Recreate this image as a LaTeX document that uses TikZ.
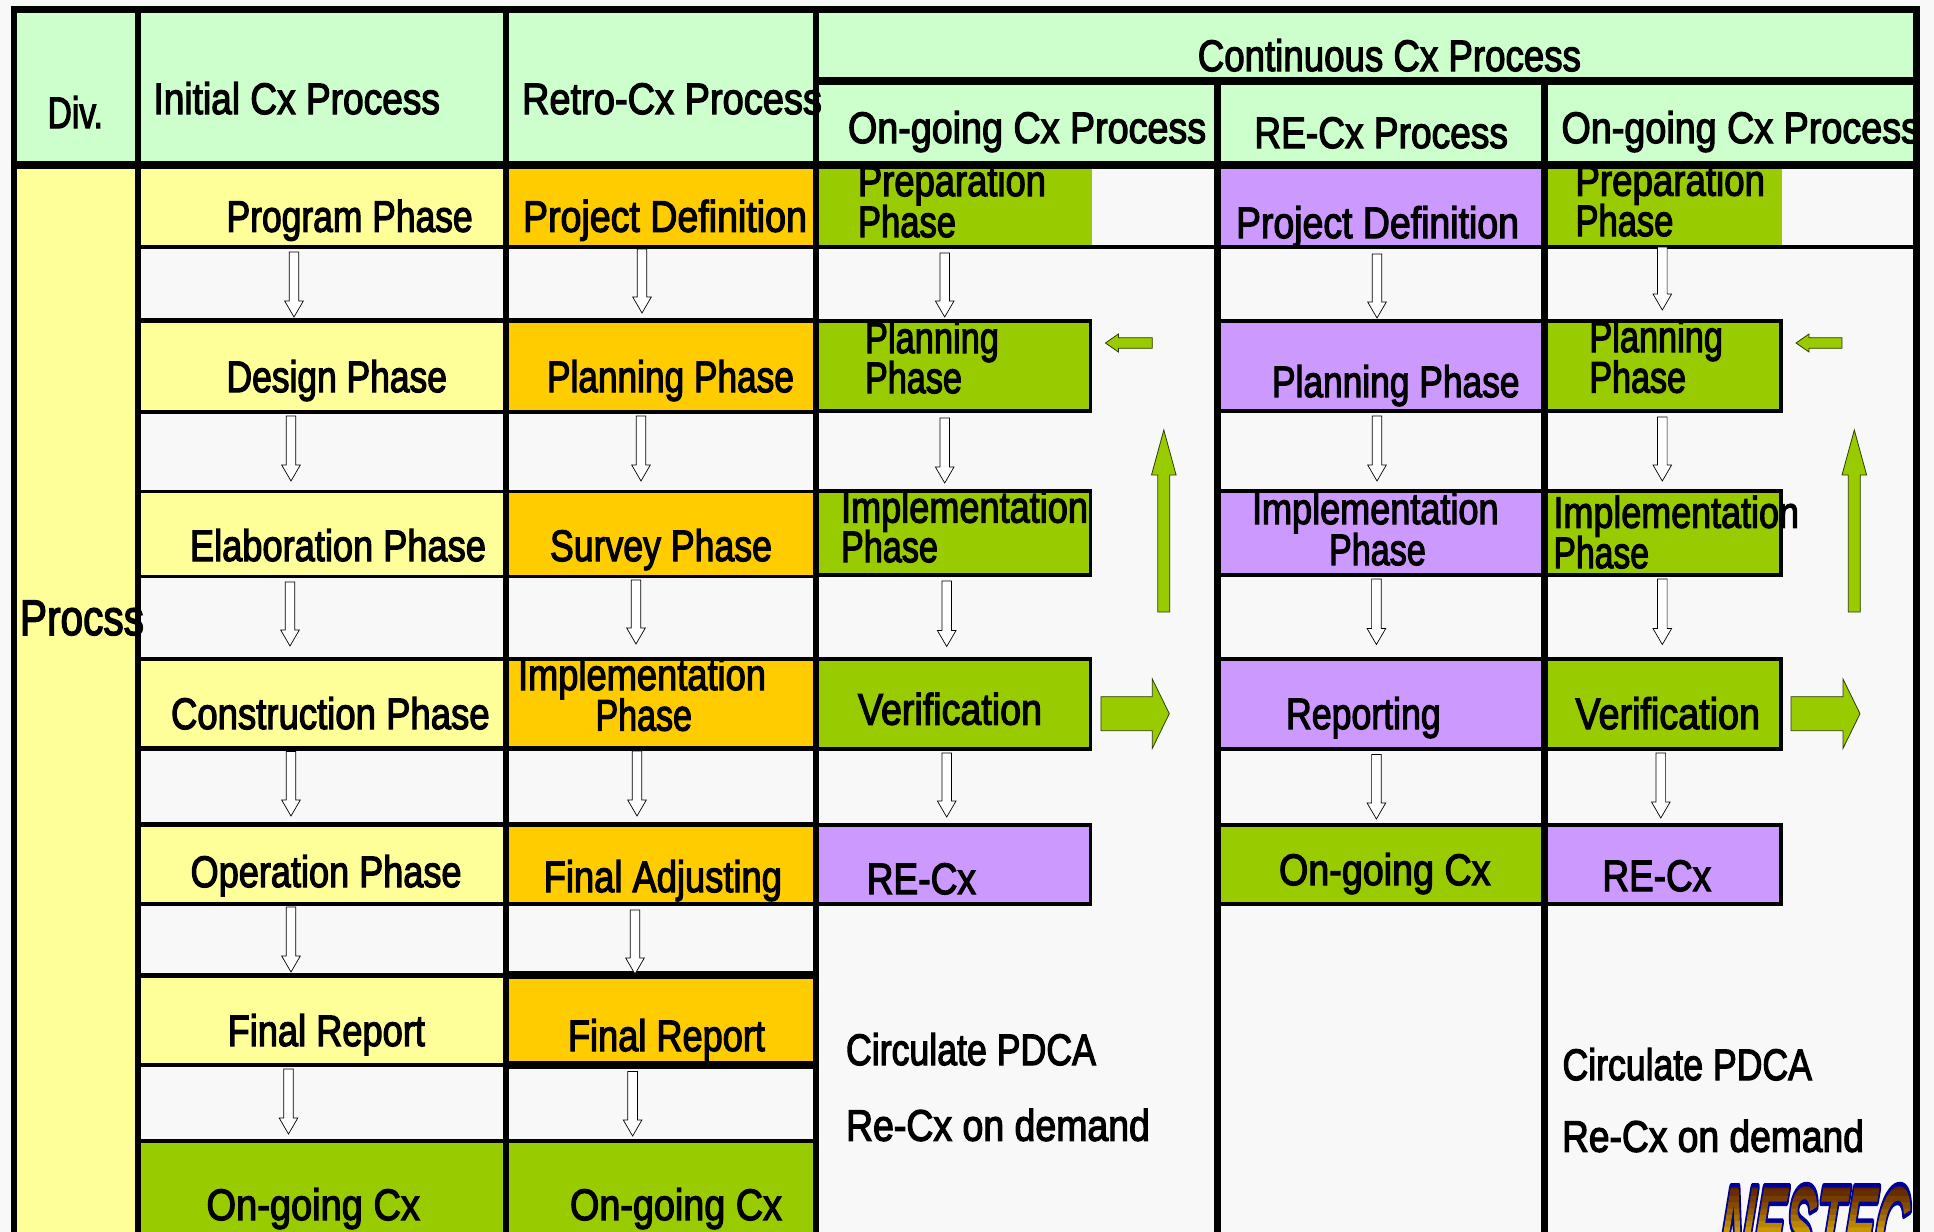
\documentclass[tikz,border=0pt]{standalone}
\usepackage{fontspec}
\usepackage{graphicx}
\usetikzlibrary{calc}
\newfontfamily\lf{Liberation Sans}[FakeBold=3]
\newfontfamily\lgf{Liberation Sans}[UprightFont=* Bold Italic]
\definecolor{hdr}{HTML}{CCFFCC}
\definecolor{yel}{HTML}{FFFF99}
\definecolor{org}{HTML}{FFCC00}
\definecolor{grn}{HTML}{99CC00}
\definecolor{prp}{HTML}{CC99FF}
\definecolor{bgc}{HTML}{F8F8F8}
\newsavebox\tbx
\newdimen\tbw
\newcommand\lfs{\lf\fontsize{22}{26}\selectfont}
% text squeezed to a width given in px
\newcommand\fitx[2]{%
  \sbox\tbx{\lfs #2}\tbw=\wd\tbx
  \pgfmathsetmacro\scx{(#1)*0.5pt/\the\tbw}%
  \scalebox{\scx}[1]{\usebox\tbx}}
% one-line label: name, x-left, x-right, baseline, text
\newcommand\lab[5]{%
  \node[lbl] (#1) at (#2,#4) {\fitx{#3-#2}{#5}};}
% two-line label: name, xa1, xa2, ya, texta, xb1, xb2, yb, textb
\newcommand\labb[9]{%
  \node[lbl] (#1) at (#6,#8) {%
    \pgfmathsetmacro\dxx{(#2-#6)*0.5}%
    \pgfmathsetmacro\dyy{(#8-#4)*0.5}%
    \rlap{\hspace{\dxx pt}\raisebox{\dyy pt}{\fitx{#3-#2}{#5}}}\fitx{#7-#6}{#9}};}
% filled cell: name, x1, y1, x2, y2, colour
\newcommand\cell[6]{%
  \node[cellbox,fill=#6,minimum width={(#4-#2)*0.5pt},minimum height={(#5-#3)*0.5pt}] (#1) at ({(#2+#4)/2},{(#3+#5)/2}) {};}
% black rule
\newcommand\rul[4]{\fill[black] (#1,#2) rectangle (#3,#4);}
% block arrow between named coordinates: style, from, to, shaft half, head half, head length (all px)
\newcommand\barrow[6]{%
  \coordinate (hb) at ($(#3)!#6*0.5pt!(#2)$);
  \draw[#1] ($(#2)!#4*0.5pt!90:(#3)$) -- ($(hb)!#4*0.5pt!-90:(#2)$) -- ($(hb)!#5*0.5pt!-90:(#2)$) -- (#3)
    -- ($(hb)!#5*0.5pt!90:(#2)$) -- ($(hb)!#4*0.5pt!90:(#2)$) -- ($(#2)!#4*0.5pt!-90:(#3)$) -- cycle;}
% thin hollow arrow: name, x, y-top, y-tip
\newcommand\darrow[4]{%
  \coordinate (#1s) at (#2,#3);
  \coordinate (#1e) at (#2,#4);
  \barrow{hollow}{#1s}{#1e}{4.8}{9.3}{16}}
\tikzset{
  lbl/.style={anchor=base west,inner sep=0pt,outer sep=0pt,text=black},
  cellbox/.style={rectangle,inner sep=0pt,outer sep=0pt,draw=none},
  hollow/.style={draw=black,fill=white,line width=0.35pt,line join=miter},
  solidarrow/.style={draw=black!70!grn,fill=grn,line width=0.4pt,line join=miter}
}
\begin{document}
\begin{tikzpicture}[x=0.5pt,y=-0.5pt]
\useasboundingbox (0,0) rectangle (1934,1232);
\fill[bgc] (0,0) rectangle (1934,1232);
% header cells
\cell{hDiv}{17}{12}{135}{162}{hdr}
\cell{hIni}{141}{12}{503}{162}{hdr}
\cell{hRet}{509}{12}{813}{162}{hdr}
\cell{hCon}{819}{12}{1914}{78}{hdr}
\cell{hOn1}{819}{84}{1215}{162}{hdr}
\cell{hRe}{1220.5}{84}{1542}{162}{hdr}
\cell{hOn2}{1547.5}{84}{1914}{162}{hdr}
% process column
\cell{pr}{17}{168}{135}{1232}{yel}
% initial column
\cell{i1}{141}{168}{503}{245}{yel}
\cell{i2}{141}{322}{503}{411}{yel}
\cell{i3}{141}{492}{503}{576}{yel}
\cell{i4}{141}{660}{503}{747}{yel}
\cell{i5}{141}{826}{503}{903}{yel}
\cell{i6}{141}{977}{503}{1064}{yel}
\cell{i7}{141}{1142}{503}{1232}{grn}
% retro column
\cell{r1}{509}{168}{813}{245}{org}
\cell{r2}{509}{322}{813}{411}{org}
\cell{r3}{509}{492}{813}{576}{org}
\cell{r4}{509}{660}{813}{747}{org}
\cell{r5}{509}{826}{813}{903}{org}
\cell{r6}{509}{978}{813}{1062}{org}
\cell{r7}{509}{1142}{813}{1232}{grn}
% first on-going column
\cell{a1}{818}{168}{1092.4}{245}{grn}
\cell{a2}{818}{322}{1089.4}{410}{grn}
\cell{a3}{818}{492}{1089.4}{574}{grn}
\cell{a4}{818}{660}{1089.4}{747}{grn}
\cell{a5}{818}{826}{1089.4}{903}{prp}
% RE-Cx column
\cell{b1}{1220}{168}{1542}{245}{prp}
\cell{b2}{1220}{322}{1542}{410}{prp}
\cell{b3}{1220}{492}{1542}{574}{prp}
\cell{b4}{1220}{660}{1542}{747}{prp}
\cell{b5}{1220}{826}{1542}{903}{grn}
% second on-going column
\cell{c1}{1547}{168}{1782}{245}{grn}
\cell{c2}{1547}{322}{1779}{410}{grn}
\cell{c3}{1547}{492}{1779}{574}{grn}
\cell{c4}{1547}{660}{1779}{747}{grn}
\cell{c5}{1547}{826}{1779}{903}{prp}
% grid rules
\rul{10.5}{6}{1920}{12.7}
\rul{10.5}{161}{1920}{169}
\rul{813}{77.3}{1920}{85}
% rows, first two columns
\rul{141}{245}{813}{249}
\rul{141}{318}{813}{323}
\rul{141}{410}{813}{414}
\rul{141}{490}{813}{493}
\rul{141}{575}{813}{578}
\rul{141}{657}{813}{661}
\rul{141}{746}{813}{751}
\rul{141}{822}{813}{827}
\rul{141}{902}{813}{906}
\rul{141}{973}{503}{978}
\rul{509}{970.5}{813}{979}
\rul{141}{1063}{503}{1067}
\rul{509}{1061}{813}{1069}
\rul{141}{1139}{813}{1143}
% rows, continuous columns
\rul{819}{245}{1914}{249}
\rul{819}{319}{1092.4}{323}
\rul{1214.3}{319}{1782.5}{323}
\rul{819}{409}{1092.4}{413}
\rul{1214.3}{409}{1782.5}{413}
\rul{819}{489}{1092.4}{493}
\rul{1214.3}{489}{1782.5}{493}
\rul{819}{573}{1092.4}{577}
\rul{1214.3}{573}{1782.5}{577}
\rul{819}{657}{1092.4}{661}
\rul{1214.3}{657}{1782.5}{661}
\rul{819}{747}{1092.4}{751}
\rul{1214.3}{747}{1782.5}{751}
\rul{819}{823}{1092.4}{827}
\rul{1214.3}{823}{1782.5}{827}
\rul{819}{902}{1092.4}{906}
\rul{1214.3}{902}{1782.5}{906}
% right edges of outlined boxes
\rul{1089.4}{319}{1092.4}{413}
\rul{1089.4}{489}{1092.4}{577}
\rul{1089.4}{657}{1092.4}{751}
\rul{1089.4}{823}{1092.4}{906}
\rul{1779}{319}{1782.5}{413}
\rul{1779}{489}{1782.5}{577}
\rul{1779}{657}{1782.5}{751}
\rul{1779}{823}{1782.5}{906}
% columns
\rul{10.5}{6}{17}{1232}
\rul{134.5}{6}{141}{1232}
\rul{503}{6}{509}{1232}
\rul{813}{6}{819}{1232}
\rul{1214.3}{77.3}{1221}{1232}
\rul{1541.3}{77.3}{1548}{1232}
\rul{1913.3}{6}{1920}{1232}
% logo, cut by the lower edge: outlined, clipped to its letters, filled in bands
\begin{scope}
\clip (1700,1170) rectangle (1922,1232);
\node[lbl,transform shape,xslant=0.09] (logo) at (1716,1273) {\scalebox{0.58}[1.55]{%
  \special{pdf:code q 0 0 0.6 RG 3 w 1 j 5 Tr}%
  \lgf\fontsize{40}{42}\selectfont NESTEC%
  \special{pdf:code 0 Tr}%
  \special{pdf:content
    0.361 0.141 0 rg -200 26.5 300 15 re f
    0.400 0.180 0 rg -200 24.5 300 2.2 re f
    0.460 0.240 0 rg -200 22.5 300 2.2 re f
    0.520 0.300 0 rg -200 20.5 300 2.2 re f
    0.580 0.370 0 rg -200 18.5 300 2.2 re f
    0.650 0.440 0 rg -200 16.5 300 2.2 re f
    0.720 0.520 0 rg -200 14.5 300 2.2 re f
    0.784 0.588 0 rg -200 -20 300 34.7 re f}%
  \special{pdf:code Q}}};
\end{scope}
% thin arrows
\darrow{da}{294}{252}{317}
\darrow{db}{291}{416}{481}
\darrow{dc}{290}{582}{646}
\darrow{dd}{291}{751.5}{816}
\darrow{de}{291}{907}{972}
\darrow{df}{288.5}{1069}{1134}
\darrow{ra}{642}{249}{313}
\darrow{rb}{641}{416}{481}
\darrow{rc}{636}{580}{644}
\darrow{rd}{637}{751}{816}
\darrow{re}{635}{910}{974}
\darrow{rf}{632.6}{1071.5}{1136}
\darrow{aa}{944.7}{253}{317}
\darrow{ab}{944.7}{418}{483}
\darrow{ac}{946.7}{581}{646.5}
\darrow{ad}{946.7}{753}{817}
\darrow{ba}{1377}{254}{318}
\darrow{bb}{1377}{416}{481}
\darrow{bc}{1376.4}{579}{644.5}
\darrow{bd}{1376.4}{754.5}{819}
\darrow{ca}{1662.3}{247}{310}
\darrow{cb}{1662.3}{417}{481}
\darrow{cc}{1662.3}{579}{644.5}
\darrow{cd}{1660.8}{753}{818}
% green arrows
\coordinate (gl1s) at (1152.3,343); \coordinate (gl1e) at (1105.4,343);
\barrow{solidarrow}{gl1s}{gl1e}{5.3}{9}{13}
\coordinate (gu1s) at (1163.8,612); \coordinate (gu1e) at (1163.8,430);
\barrow{solidarrow}{gu1s}{gu1e}{6}{12.3}{45}
\coordinate (gr1s) at (1100.9,713.7); \coordinate (gr1e) at (1169.3,713.7);
\barrow{solidarrow}{gr1s}{gr1e}{17}{34.7}{17}
\coordinate (gl2s) at (1842,343); \coordinate (gl2e) at (1796,343);
\barrow{solidarrow}{gl2s}{gl2e}{5.3}{9}{13}
\coordinate (gu2s) at (1854.3,612); \coordinate (gu2e) at (1854.3,430);
\barrow{solidarrow}{gu2s}{gu2e}{6}{12.3}{45}
\coordinate (gr2s) at (1791,713.7); \coordinate (gr2e) at (1860,713.7);
\barrow{solidarrow}{gr2s}{gr2e}{17}{34.7}{17}
% header labels
\lab{tDiv}{47.6}{103}{128}{Div.}
\lab{tIni}{153.5}{440}{114}{Initial Cx Process}
\lab{tRet}{522}{822}{114}{Retro-Cx Process}
\lab{tCon}{1197.8}{1581}{71}{Continuous Cx Process}
\lab{tOn1}{848}{1206.2}{143}{On-going Cx Process}
\lab{tRe}{1254.3}{1508}{148}{RE-Cx Process}
\lab{tOn2}{1561.5}{1920}{143}{On-going Cx Process}
% process label
\lab{tPr}{20}{144}{635}{\fontsize{25}{29}\selectfont Procss}
% initial labels
\lab{tI1}{226.6}{472.7}{231.7}{Program Phase}
\lab{tI2}{226.6}{447}{392}{Design Phase}
\lab{tI3}{190}{486}{561}{Elaboration Phase}
\lab{tI4}{171}{489.7}{729}{Construction Phase}
\lab{tI5}{190.6}{461.6}{887}{Operation Phase}
\lab{tI6}{227.6}{425}{1046}{Final Report}
\lab{tI7}{206.5}{420}{1220}{On-going Cx}
% retro labels
\lab{tR1}{523}{807}{231.7}{Project Definition}
\lab{tR2}{547}{794}{392}{Planning Phase}
\lab{tR3}{550}{772}{561}{Survey Phase}
\labb{tR4}{518}{766}{690}{Implementation}{595.5}{692}{730.5}{Phase}
\lab{tR5}{543.7}{782}{892}{Final Adjusting}
\lab{tR6}{568}{765}{1051}{Final Report}
\lab{tR7}{570}{782}{1220}{On-going Cx}
% first on-going labels
\labb{tA1}{858}{1046}{196}{Preparation}{858}{956}{237}{Phase}
\labb{tA2}{865}{999}{353}{Planning}{865}{962}{393}{Phase}
\labb{tA3}{841}{1088}{522.5}{Implementation}{841}{938}{562}{Phase}
\lab{tA4}{858}{1042}{724.6}{Verification}
\lab{tA5}{866.7}{976}{894}{RE-Cx}
\lab{tA6}{846}{1096}{1065}{Circulate PDCA}
\lab{tA7}{846}{1150}{1140.7}{Re-Cx on demand}
% RE-Cx labels
\lab{tB1}{1236}{1519}{238}{Project Definition}
\lab{tB2}{1272}{1519.6}{397}{Planning Phase}
\labb{tB3}{1252}{1498.6}{524}{Implementation}{1329}{1425.8}{565}{Phase}
\lab{tB4}{1286}{1440.8}{729}{Reporting}
\lab{tB5}{1279}{1490.6}{885}{On-going Cx}
% second on-going labels
\labb{tC1}{1575.5}{1765}{195.6}{Preparation}{1575.5}{1673.4}{236}{Phase}
\labb{tC2}{1589.4}{1723}{352}{Planning}{1589.4}{1686}{392.5}{Phase}
\labb{tC3}{1553.5}{1799}{527.7}{Implementation}{1553.5}{1649}{568}{Phase}
\lab{tC4}{1575.5}{1760}{729}{Verification}
\lab{tC5}{1602.4}{1711.2}{891}{RE-Cx}
\lab{tC6}{1562.5}{1812}{1080}{Circulate PDCA}
\lab{tC7}{1562}{1864}{1151.7}{Re-Cx on demand}
\end{tikzpicture}
\end{document}
